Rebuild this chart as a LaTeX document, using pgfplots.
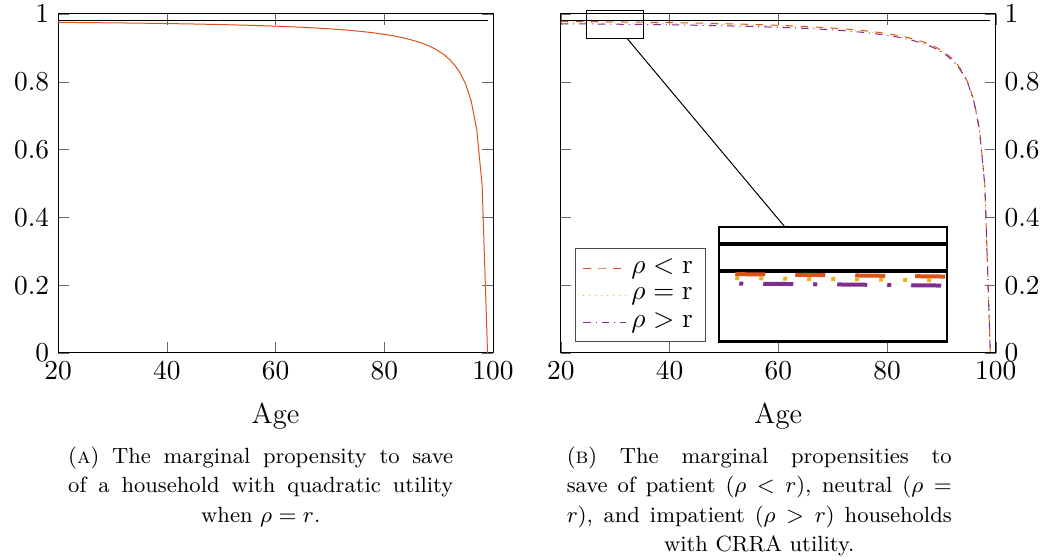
\documentclass[border=0pt]{standalone}
\usepackage{pgfplots}
\usepackage{pgfplotstable}
\pgfplotsset{compat=1.18}
\usetikzlibrary{spy}
\definecolor{mOrange}{rgb}{0.85,0.325,0.098}
\definecolor{mYellow}{rgb}{0.929,0.694,0.125}
\definecolor{mPurple}{rgb}{0.494,0.184,0.556}

\pgfplotstableread{
age mps
20 0.97533
25 0.97465
30 0.97386
35 0.97292
40 0.97180
45 0.97045
50 0.96880
55 0.96676
60 0.96416
65 0.96078
70 0.95623
72 0.95393
74 0.95128
76 0.94817
78 0.94448
80 0.94004
82 0.93461
84 0.92779
86 0.91902
87 0.91361
88 0.90730
89 0.89983
90 0.89086
91 0.87989
92 0.86617
93 0.84852
94 0.82498
95 0.79200
96 0.74253
97 0.66005
98 0.49505
99 0
}\quadtab

\pgfplotstableread{
age mps
20 0.97827
25 0.97754
30 0.97669
35 0.97570
40 0.97452
45 0.97311
50 0.97141
55 0.96930
60 0.96664
65 0.96320
70 0.95857
72 0.95625
74 0.95356
76 0.95042
78 0.94671
80 0.94224
82 0.93676
84 0.92991
86 0.92109
87 0.91566
88 0.90932
89 0.90183
90 0.89283
91 0.88182
92 0.86806
93 0.85036
94 0.82676
95 0.79370
96 0.74411
97 0.66145
98 0.49610
99 0
}\patienttab

\pgfplotstableread{
age mps
20 0.97533
25 0.97465
30 0.97386
35 0.97292
40 0.97180
45 0.97045
50 0.96880
55 0.96676
60 0.96416
65 0.96078
70 0.95623
72 0.95393
74 0.95128
76 0.94817
78 0.94448
80 0.94004
82 0.93461
84 0.92779
86 0.91902
87 0.91361
88 0.90730
89 0.89983
90 0.89086
91 0.87989
92 0.86617
93 0.84852
94 0.82498
95 0.79200
96 0.74253
97 0.66005
98 0.49505
99 0
}\neutraltab

\pgfplotstableread{
age mps
20 0.97120
25 0.97060
30 0.96988
35 0.96903
40 0.96799
45 0.96673
50 0.96518
55 0.96323
60 0.96074
65 0.95747
70 0.95302
72 0.95077
74 0.94816
76 0.94510
78 0.94146
80 0.93708
82 0.93170
84 0.92494
86 0.91623
87 0.91086
88 0.90458
89 0.89715
90 0.88823
91 0.87731
92 0.86365
93 0.84607
94 0.82261
95 0.78975
96 0.74043
97 0.65819
98 0.49367
99 0
}\impatienttab

\begin{document}
\begin{tikzpicture}[spy using outlines={rectangle, magnification=4, connect spies}]
\useasboundingbox (0,0) rectangle (418.4pt,224pt);
\pgfplotsset{
  myax/.style={
    anchor=south west, scale only axis, width=174pt, height=135.6pt,
    xmin=20, xmax=100, ymin=0, ymax=1,
    xtick={20,40,60,80,100}, ytick={0,0.2,0.4,0.6,0.8,1},
    tick label style={font=\fontsize{11}{13}\selectfont},
    major tick style={black!60},
    xlabel={Age},
    xlabel style={font=\fontsize{11.5}{14}\selectfont, at={(axis description cs:0.5,-0.2094)}, anchor=base},
  }
}
\begin{axis}[myax, at={(23.2pt,82.8pt)}]
\addplot[black, forget plot] coordinates {(20,0.98) (99,0.98)};
\addplot[mOrange] table[x=age, y=mps] {\quadtab};
\end{axis}

\begin{axis}[myax, at={(224.3pt,82.8pt)}, yticklabel pos=right,
  legend style={at={(0.032,0.033)}, anchor=south west, draw=black!70, font=\fontsize{11}{13}\selectfont}]
\addplot[black, forget plot] coordinates {(20,0.98) (99,0.98)};
\addplot[mOrange, dashed] table[x=age, y=mps] {\patienttab};
\addlegendentry{$\rho<\mathrm{r}$}
\addplot[mYellow, dotted] table[x=age, y=mps] {\neutraltab};
\addlegendentry{$\rho=\mathrm{r}$}
\addplot[mPurple, dashdotted] table[x=age, y=mps] {\impatienttab};
\addlegendentry{$\rho>\mathrm{r}$}
\coordinate (spypt) at (axis cs:30,0.97);
\end{axis}

\spy[width=91.1pt,height=45.9pt] on (spypt) in node[line width=0.9pt, fill=white] at (333.1pt,110.3pt);

\node[anchor=north, align=center, inner sep=0pt, font=\fontsize{8.8}{11.8}\selectfont] at (104.3pt,45.4pt)
{\makebox[154pt][s]{(\textsc{a}) The marginal propensity to save}\\
 \makebox[154pt][s]{of a household with quadratic utility}\\
 when $\rho = r$.};

\node[anchor=north, align=center, inner sep=0pt, font=\fontsize{8.8}{11.8}\selectfont] at (303.7pt,45.4pt)
{\makebox[154pt][s]{(\textsc{b}) The marginal propensities to}\\
 \makebox[154pt][s]{save of patient ($\rho < r$), neutral ($\rho =$}\\
 \makebox[154pt][s]{$r$), and impatient ($\rho > r$) households}\\
 with CRRA utility.};
\end{tikzpicture}
\end{document}
